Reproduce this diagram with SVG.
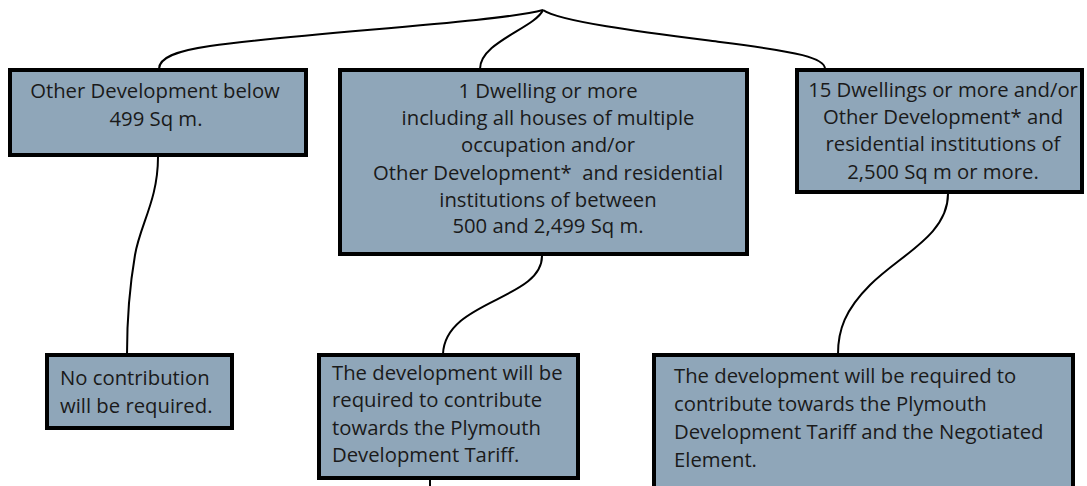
<svg xmlns="http://www.w3.org/2000/svg" width="1087" height="486" viewBox="0 0 1087 486">
<style>
.box{fill:#8fa6b9;stroke:#000;stroke-width:4}
.t{font-family:"Open Sans","Liberation Sans",sans-serif;font-size:20.3px;fill:#1a1a1a}
.c{text-anchor:middle}
.con{fill:none;stroke:#000;stroke-width:2}
</style>
<rect width="1087" height="486" fill="#fff"/>
<g id="connectors">
<path class="con" d="M543,10 C500,22 300,33 210,46 C175,51 159,58 159,69"/>
<path class="con" d="M543,10 C535,28 480,42 480,69"/>
<path class="con" d="M543,10 C560,22 650,33 720,42 C800,52 825,58 825,69"/>
<path class="con" d="M158,157 C158,200 140,225 135,255 C129,290 127,320 127,354"/>
<path class="con" d="M542,256 C542,300 445,300 443,354"/>
<path class="con" d="M948,194 C948,235 900,255 870,285 C845,310 838,330 838,354"/>
<path class="con" d="M430,480 L430,486"/>
</g>
<g id="n1">
<rect class="box" x="10" y="70" width="296" height="85"/>
<text class="t c" x="155" y="98">Other Development below</text>
<text class="t c" x="156" y="126">499 Sq m.</text>
</g>
<g id="n2">
<rect class="box" x="340" y="70" width="407" height="184"/>
<text class="t c" x="548" y="98">1 Dwelling or more</text>
<text class="t c" x="548" y="125">including all houses of multiple</text>
<text class="t c" x="548" y="152">occupation and/or</text>
<text class="t c" x="548" y="180" xml:space="preserve">Other Development*  and residential</text>
<text class="t c" x="548" y="207">institutions of between</text>
<text class="t c" x="548" y="233">500 and 2,499 Sq m.</text>
</g>
<g id="n3">
<rect class="box" x="797" y="70" width="285" height="122"/>
<text class="t c" x="943" y="97">15 Dwellings or more and/or</text>
<text class="t c" x="943" y="124">Other Development* and</text>
<text class="t c" x="943" y="151">residential institutions of</text>
<text class="t c" x="943" y="179">2,500 Sq m or more.</text>
</g>
<g id="n4">
<rect class="box" x="47" y="355" width="185" height="73"/>
<text class="t" x="60" y="385">No contribution</text>
<text class="t" x="60" y="413">will be required.</text>
</g>
<g id="n5">
<rect class="box" x="319" y="355" width="259" height="123"/>
<text class="t" x="332" y="380">The development will be</text>
<text class="t" x="332" y="407">required to contribute</text>
<text class="t" x="332" y="435">towards the Plymouth</text>
<text class="t" x="332" y="462">Development Tariff.</text>
</g>
<g id="n6">
<rect class="box" x="654" y="355" width="419" height="150"/>
<text class="t" x="674" y="383">The development will be required to</text>
<text class="t" x="674" y="411">contribute towards the Plymouth</text>
<text class="t" x="674" y="439">Development Tariff and the Negotiated</text>
<text class="t" x="674" y="467">Element.</text>
</g>
</svg>
